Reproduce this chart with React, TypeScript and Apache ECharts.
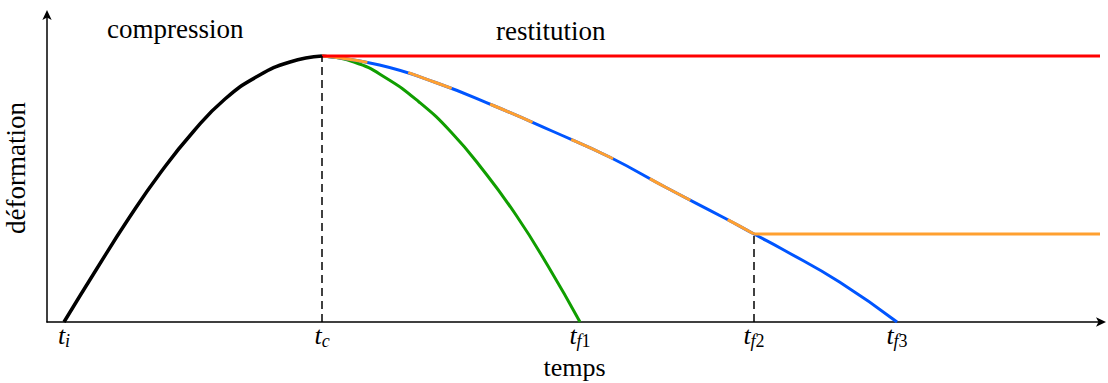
import React, { useEffect, useRef } from "react";
import * as echarts from "echarts";

// Time (x) and deformation (y) in arbitrary units
const tickValues = [0.17, 2.75, 5.33, 7.07, 8.5];
const tickLabels = ["{t|t}{si|i}", "{t|t}{si|c}", "{t|t}{si|f}{sn|1}", "{t|t}{si|f}{sn|2}", "{t|t}{si|f}{sn|3}"];

const compressionX = [0.17, 0.49, 0.82, 1.14, 1.46, 1.78, 2.11, 2.43, 2.75];
const compressionY = [0, 0.52, 1.04, 1.5, 1.9, 2.23, 2.46, 2.6, 2.66];

const greenX = [2.75, 3.07, 3.39, 3.72, 4.04, 4.36, 4.69, 5.01, 5.33];
const greenY = [2.66, 2.6, 2.44, 2.2, 1.9, 1.52, 1.07, 0.56, 0];

const blueX = [2.75, 3.325, 3.9, 4.475, 5.05, 5.625, 6.2, 6.775, 7.07, 7.35, 7.925, 8.5];
const blueY = [2.66, 2.57, 2.39, 2.16, 1.91, 1.65, 1.34, 1.04, 0.88, 0.73, 0.4, 0];

const tF2 = 7.07;
const orangeEndX = 10.53;
const redX = [2.75, 10.53];
const redY = [2.66, 2.66];

const pairs = (xs: number[], ys: number[]) => xs.map((x, i) => [x, ys[i]]);

const SERIF = "Liberation Serif";

export default function App() {
  const ref = useRef<HTMLDivElement>(null);
  useEffect(() => {
    if (!ref.current) return;
    const chart = echarts.init(ref.current, null, { renderer: "svg" });
    const nT = blueX.indexOf(tF2);
    const orangeDashed = pairs(blueX.slice(0, nT + 1), blueY.slice(0, nT + 1));
    const fT2 = blueY[nT];
    const curve = { smooth: 0.5, showSymbol: false };
    chart.setOption({
      animation: false,
      grid: { left: 47, right: 6, top: 14, bottom: 61, outerBoundsMode: "none", containLabel: false },
      xAxis: {
        type: "value",
        min: 0,
        max: 10.55,
        splitLine: { show: false },
        axisTick: { show: false },
        axisLine: {
          onZero: false,
          lineStyle: { color: "#000", width: 1.5 },
          symbol: ["none", "arrow"],
          symbolSize: [7, 10],
          symbolOffset: [0, 4],
        },
        axisLabel: {
          customValues: tickValues,
          formatter: (v: number) => {
            const i = tickValues.findIndex((t) => Math.abs(t - v) < 1e-6);
            return i >= 0 ? tickLabels[i] : "";
          },
          margin: 0,
          rich: {
            t: { fontFamily: SERIF, fontStyle: "italic", fontSize: 26, color: "#000", lineHeight: 26 },
            si: { fontFamily: SERIF, fontStyle: "italic", fontSize: 18, color: "#000", lineHeight: 26, padding: [12, 0, 0, 0] },
            sn: { fontFamily: SERIF, fontSize: 18, color: "#000", lineHeight: 26, padding: [12, 0, 0, 0] },
          },
        },
        name: "temps",
        nameLocation: "middle",
        nameGap: 29,
        nameTextStyle: { fontFamily: SERIF, fontSize: 26, color: "#000" },
      },
      yAxis: {
        type: "value",
        min: 0,
        max: 3.08,
        splitLine: { show: false },
        axisTick: { show: false },
        axisLabel: { show: false },
        axisLine: {
          onZero: false,
          lineStyle: { color: "#000", width: 1.5 },
          symbol: ["none", "arrow"],
          symbolSize: [7, 10],
          symbolOffset: [0, 4],
        },
        name: "déformation",
        nameLocation: "middle",
        nameGap: 18,
        nameRotate: 90,
        nameTextStyle: { fontFamily: SERIF, fontSize: 27, color: "#000" },
      },
      graphic: [
        { type: "text", left: 107, top: 15, style: { text: "compression", fontFamily: SERIF, fontSize: 27, fill: "#000" } },
        { type: "text", left: 496, top: 17, style: { text: "restitution", fontFamily: SERIF, fontSize: 27, fill: "#000" } },
      ],
      series: [
        { type: "line", data: pairs(greenX, greenY), ...curve, z: 2, lineStyle: { color: "#109e00", width: 3 } },
        { type: "line", data: pairs(blueX, blueY), ...curve, z: 3, lineStyle: { color: "#0055ff", width: 3 } },
        { type: "line", data: orangeDashed, ...curve, z: 4, lineStyle: { color: "#ffa030", width: 3, type: [46, 42] } },
        {
          type: "line", data: [[tF2, fT2], [orangeEndX, fT2]], showSymbol: false, z: 4,
          lineStyle: { color: "#ffa030", width: 3 },
        },
        { type: "line", data: pairs(redX, redY), showSymbol: false, z: 5, lineStyle: { color: "#ff0000", width: 3 } },
        { type: "line", data: pairs(compressionX, compressionY), ...curve, z: 6, lineStyle: { color: "#000", width: 3.5 } },
        {
          type: "line", data: [[2.75, 0], [2.75, 2.66]], showSymbol: false, z: 7,
          lineStyle: { color: "#000", width: 1.5, type: [8, 5] },
        },
        {
          type: "line", data: [[tF2, 0], [tF2, fT2]], showSymbol: false, z: 7,
          lineStyle: { color: "#000", width: 1.5, type: [8, 5] },
        },
      ],
    });
    return () => chart.dispose();
  }, []);
  return <div ref={ref} style={{ width: 1108, height: 383, position: "absolute", left: 0, top: 0 }} />;
}
